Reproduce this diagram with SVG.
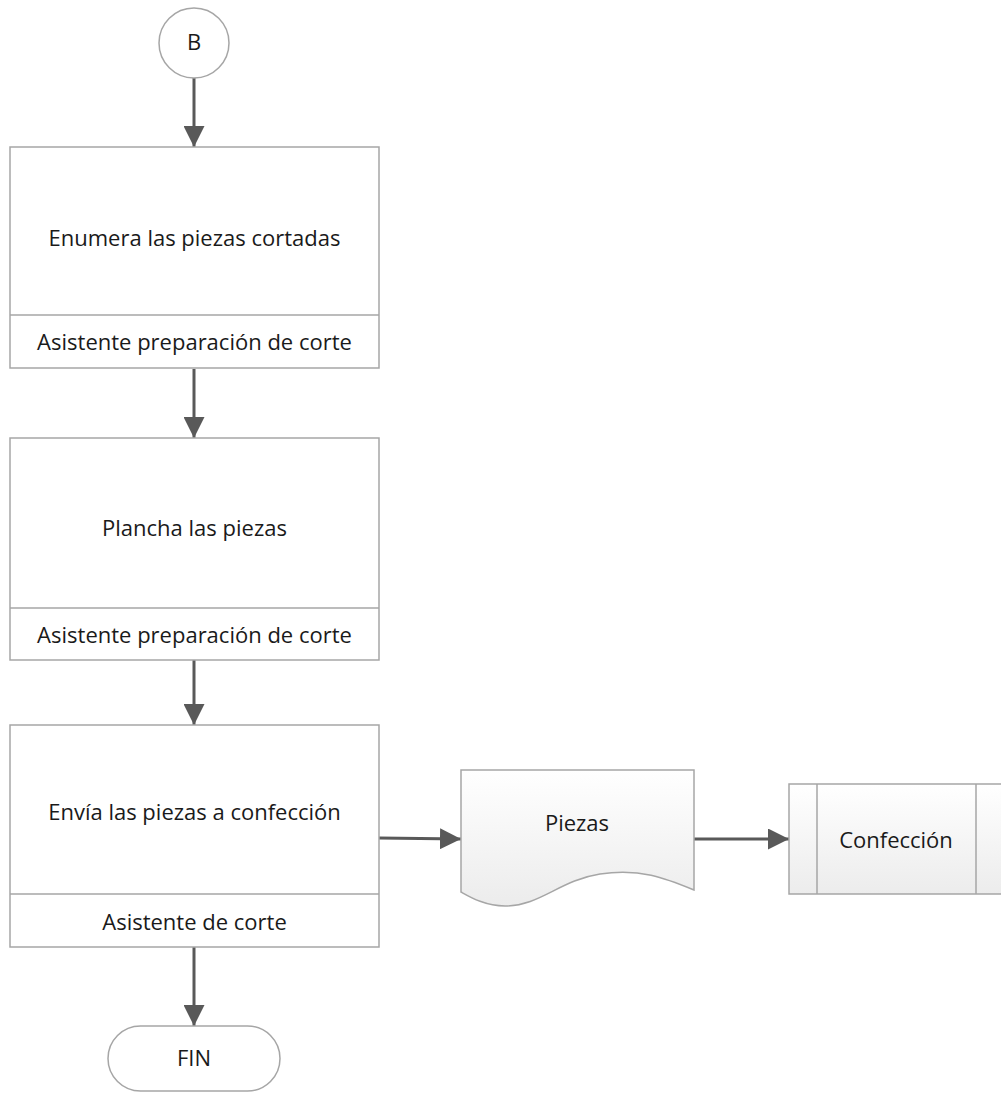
<svg xmlns="http://www.w3.org/2000/svg" width="1001" height="1093" viewBox="0 0 1001 1093">
  <style>
    .shape { fill: #ffffff; stroke: #a6a6a6; stroke-width: 1.5; }
    .grad { fill: url(#docFill); stroke: #a6a6a6; stroke-width: 1.5; }
    .div { stroke: #a6a6a6; stroke-width: 1.5; fill: none; }
    .lbl { font-family: "Open Sans", "Liberation Sans", sans-serif; font-size: 22px; fill: #1a1a1a; text-anchor: middle; }
    .conn { stroke: #595959; stroke-width: 3; fill: none; marker-end: url(#arrow); }
  </style>
  <defs>
    <linearGradient id="docFill" x1="0" y1="0" x2="0" y2="1">
      <stop offset="0" stop-color="#ffffff"/>
      <stop offset="1" stop-color="#ececec"/>
    </linearGradient>
    <marker id="arrow" viewBox="0 0 10 10" refX="10" refY="5" markerWidth="7" markerHeight="7" markerUnits="strokeWidth" orient="auto">
      <path d="M0,0 L10,5 L0,10 Z" fill="#595959"/>
    </marker>
  </defs>

  <!-- connectors -->
  <g id="connectors">
    <line class="conn" x1="194" y1="78" x2="194" y2="147"/>
    <line class="conn" x1="194" y1="369" x2="194" y2="438"/>
    <line class="conn" x1="194" y1="660" x2="194" y2="725"/>
    <line class="conn" x1="194" y1="947" x2="194" y2="1026"/>
    <line class="conn" x1="379" y1="838" x2="461" y2="839"/>
    <line class="conn" x1="694" y1="839" x2="789" y2="839"/>
  </g>

  <!-- connector B -->
  <g id="node-b">
    <circle class="shape" cx="194" cy="43" r="35"/>
    <text class="lbl" x="194" y="50" font-size="19">B</text>
  </g>

  <!-- step 1 -->
  <g id="node-enumera">
    <rect class="shape" x="10" y="147" width="369" height="221"/>
    <line class="div" x1="10" y1="315" x2="379" y2="315"/>
    <text class="lbl" x="194.5" y="246">Enumera las piezas cortadas</text>
    <text class="lbl" x="194.5" y="350">Asistente preparación de corte</text>
  </g>

  <!-- step 2 -->
  <g id="node-plancha">
    <rect class="shape" x="10" y="438" width="369" height="222"/>
    <line class="div" x1="10" y1="608" x2="379" y2="608"/>
    <text class="lbl" x="194.5" y="536">Plancha las piezas</text>
    <text class="lbl" x="194.5" y="643">Asistente preparación de corte</text>
  </g>

  <!-- step 3 -->
  <g id="node-envia">
    <rect class="shape" x="10" y="725" width="369" height="222"/>
    <line class="div" x1="10" y1="894" x2="379" y2="894"/>
    <text class="lbl" x="194.5" y="820">Envía las piezas a confección</text>
    <text class="lbl" x="194.5" y="930">Asistente de corte</text>
  </g>

  <!-- document -->
  <g id="node-piezas">
    <path class="grad" d="M461,770 H694 V890 C665,878 640,868 600,874 C560,880 540,906 505,906 C485,906 470,897 461,892 Z"/>
    <text class="lbl" x="577" y="831">Piezas</text>
  </g>

  <!-- predefined process -->
  <g id="node-confeccion">
    <rect class="grad" x="789" y="784" width="220" height="110"/>
    <line class="div" x1="817" y1="784" x2="817" y2="894"/>
    <line class="div" x1="976" y1="784" x2="976" y2="894"/>
    <text class="lbl" x="896" y="848">Confección</text>
  </g>

  <!-- terminator -->
  <g id="node-fin">
    <rect class="shape" x="108" y="1026" width="172" height="65" rx="32.5" ry="32.5"/>
    <text class="lbl" x="194" y="1066" font-size="20">FIN</text>
  </g>
</svg>
